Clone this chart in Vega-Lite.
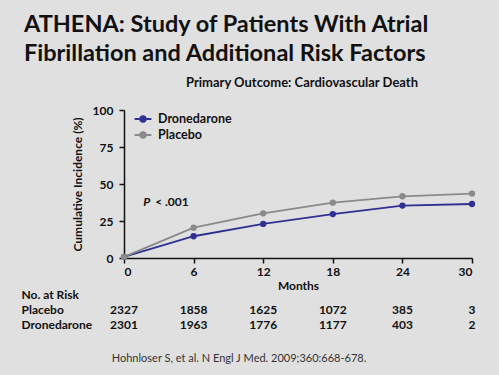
{
  "$schema": "https://vega.github.io/schema/vega-lite/v6.json",
  "background": "#e0e0e0",
  "padding": {"left": 21, "top": 12, "right": 23, "bottom": 15},
  "title": {
    "text": ["ATHENA: Study of Patients With Atrial", "Fibrillation and Additional Risk Factors"],
    "anchor": "start",
    "frame": "bounds",
    "dx": 3,
    "font": "Lato",
    "fontSize": 23.5,
    "fontWeight": "bold",
    "lineHeight": 29,
    "color": "#111111",
    "offset": 12
  },
  "bounds": "flush",
  "spacing": 29,
  "vconcat": [
    {
      "width": 348,
      "height": 148,
      "title": {
        "text": "Primary Outcome: Cardiovascular Death",
        "font": "Lato",
        "fontSize": 13,
        "fontWeight": "bold",
        "color": "#111111",
        "offset": 14,
        "dx": 4
      },
      "encoding": {
        "x": {
          "field": "month",
          "type": "quantitative",
          "scale": {"domain": [0, 30], "nice": false},
          "axis": {"values": [0, 6, 12, 18, 24, 30], "title": "Months", "grid": false, "tickSize": 5, "labelPadding": 3, "titlePadding": 3}
        },
        "y": {
          "field": "value",
          "type": "quantitative",
          "scale": {"domain": [0, 100], "nice": false},
          "axis": {"values": [0, 25, 50, 75, 100], "title": "Cumulative Incidence (%)", "grid": false, "tickSize": 5, "labelPadding": 6, "titlePadding": 8}
        }
      },
      "layer": [
        {
          "data": {"name": "curves"},
          "mark": {"type": "line", "strokeWidth": 1.8},
          "encoding": {
            "color": {
              "field": "group",
              "type": "nominal",
              "scale": {"domain": ["Dronedarone", "Placebo"], "range": ["#2e3192", "#8a8a8a"]},
              "legend": {
                "title": null,
                "orient": "none",
                "legendX": 12,
                "legendY": 2,
                "symbolType": "M-1.5,0L1.5,0M-0.5,0A0.5,0.5,0,1,0,0.5,0A0.5,0.5,0,1,0,-0.5,0Z",
                "symbolSize": 125,
                "symbolStrokeWidth": 2,
                "labelFont": "Lato",
                "labelFontSize": 12.5,
                "labelFontWeight": "bold",
                "labelColor": "#111111",
                "labelOffset": 8,
                "rowPadding": 2
              }
            }
          }
        },
        {
          "data": {"name": "curves"},
          "mark": {"type": "point", "filled": true, "size": 40, "opacity": 1},
          "encoding": {
            "color": {"field": "group", "type": "nominal"}
          }
        },
        {
          "data": {"name": "note"},
          "mark": {"type": "text", "font": "Lato", "fontSize": 12, "fontWeight": "bold", "fontStyle": "italic", "align": "left", "color": "#111111"},
          "encoding": {"text": {"field": "p"}}
        },
        {
          "data": {"name": "note"},
          "mark": {"type": "text", "font": "Lato", "fontSize": 12, "fontWeight": "bold", "align": "left", "dx": 12, "color": "#111111"},
          "encoding": {"text": {"field": "rest"}}
        }
      ]
    },
    {
      "width": 348,
      "height": 45,
      "title": {
        "text": "Hohnloser S, et al. N Engl J Med. 2009;360:668-678.",
        "orient": "bottom",
        "anchor": "middle",
        "dx": -59,
        "offset": 21,
        "font": "Lato",
        "fontSize": 11,
        "fontWeight": "normal",
        "color": "#333333"
      },
      "data": {"name": "risk"},
      "mark": {"type": "text", "font": "Lato", "fontSize": 12, "fontWeight": "bold", "color": "#111111"},
      "encoding": {
        "x": {"field": "month", "type": "quantitative", "scale": {"domain": [0, 30], "nice": false}, "axis": null},
        "y": {
          "field": "group",
          "type": "nominal",
          "scale": {"domain": ["No. at Risk", "Placebo", "Dronedarone"]},
          "axis": {"title": null, "domain": false, "ticks": false, "labelAlign": "left", "labelPadding": 103}
        },
        "text": {"field": "n", "type": "quantitative", "format": "d"}
      }
    }
  ],
  "datasets": {
    "curves": [
      {"month": 0, "value": 0.8, "group": "Dronedarone"},
      {"month": 6, "value": 14.7, "group": "Dronedarone"},
      {"month": 12, "value": 23.0, "group": "Dronedarone"},
      {"month": 18, "value": 29.7, "group": "Dronedarone"},
      {"month": 24, "value": 35.4, "group": "Dronedarone"},
      {"month": 30, "value": 36.5, "group": "Dronedarone"},
      {"month": 0, "value": 0.8, "group": "Placebo"},
      {"month": 6, "value": 20.5, "group": "Placebo"},
      {"month": 12, "value": 30.2, "group": "Placebo"},
      {"month": 18, "value": 37.4, "group": "Placebo"},
      {"month": 24, "value": 41.7, "group": "Placebo"},
      {"month": 30, "value": 43.5, "group": "Placebo"}
    ],
    "note": [
      {"month": 1.65, "value": 37.8, "p": "P", "rest": "< .001"}
    ],
    "risk": [
      {"group": "Placebo", "month": 0, "n": 2327},
      {"group": "Placebo", "month": 6, "n": 1858},
      {"group": "Placebo", "month": 12, "n": 1625},
      {"group": "Placebo", "month": 18, "n": 1072},
      {"group": "Placebo", "month": 24, "n": 385},
      {"group": "Placebo", "month": 30, "n": 3},
      {"group": "Dronedarone", "month": 0, "n": 2301},
      {"group": "Dronedarone", "month": 6, "n": 1963},
      {"group": "Dronedarone", "month": 12, "n": 1776},
      {"group": "Dronedarone", "month": 18, "n": 1177},
      {"group": "Dronedarone", "month": 24, "n": 403},
      {"group": "Dronedarone", "month": 30, "n": 2}
    ]
  },
  "config": {
    "view": {"stroke": null},
    "axis": {
      "labelFont": "Lato",
      "labelFontSize": 12,
      "labelFontWeight": "bold",
      "labelColor": "#111111",
      "titleFont": "Lato",
      "titleFontSize": 12,
      "titleFontWeight": "bold",
      "titleColor": "#111111",
      "domainColor": "#111111",
      "domainWidth": 1.5,
      "tickColor": "#111111",
      "tickWidth": 1.5
    }
  }
}
